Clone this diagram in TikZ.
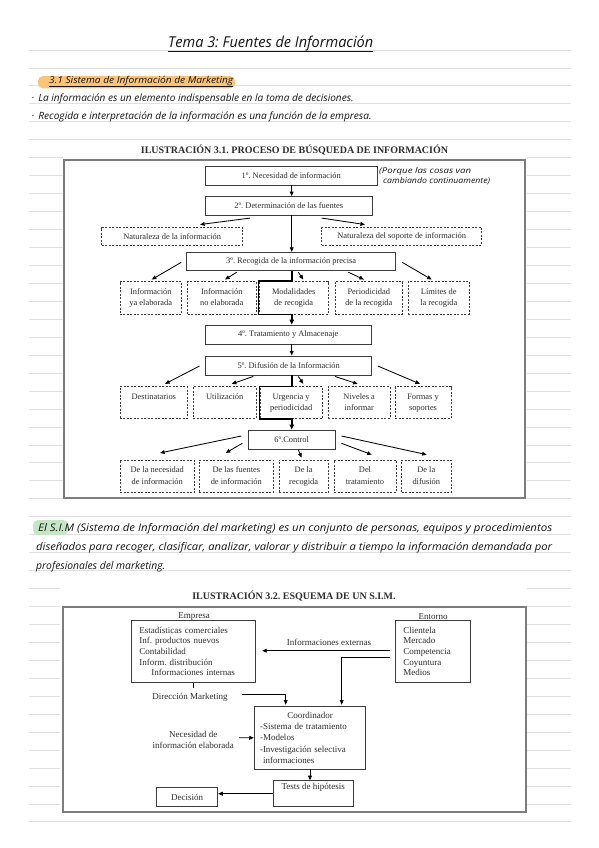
\documentclass[tikz,border=0pt]{standalone}
\usepackage{fontspec}
\usepackage{graphicx}
\setmainfont{Liberation Serif}
\newfontfamily\hand{Open Sans}
\usetikzlibrary{arrows.meta,calc}
\definecolor{rulec}{RGB}{224,224,224}
\definecolor{framec}{RGB}{125,125,125}
\definecolor{boxc}{RGB}{60,60,60}
\definecolor{ink}{RGB}{45,45,45}
\definecolor{handink}{RGB}{20,20,20}
\definecolor{hlorange}{RGB}{250,196,120}
\definecolor{hlgreen}{RGB}{196,230,196}
\newcommand\diafont{\fontsize{8.4}{11.5}\selectfont}
\newcommand\simfont{\fontsize{9}{10.7}\selectfont\frenchspacing}
\newcommand\handfont[1]{\hand\itshape\fontsize{#1}{#1}\selectfont}
\frenchspacing
\begin{document}
\begin{tikzpicture}[x=1pt,y=-1pt,
  every node/.style={inner sep=0pt, text=ink},
  rule/.style={draw=rulec, line width=0.8pt},
  sbox/.style n args={2}{draw=boxc, line width=0.9pt, minimum width=#1, minimum height=#2, align=center, font=\diafont},
  dbox/.style n args={2}{draw=boxc, line width=0.8pt, dash pattern=on 2pt off 1.5pt, minimum width=#1, minimum height=#2, align=center, font=\diafont},
  simbox/.style n args={2}{draw=boxc, line width=0.9pt, minimum width=#1, minimum height=#2, font=\simfont},
  framebox/.style n args={2}{draw=framec, line width=1.3pt, minimum width=#1, minimum height=#2},
  arr/.style={draw=black, line width=0.85pt, -{Triangle[length=4.6pt,width=3.8pt]}},
  thk/.style={draw=black, line width=1.6pt, -{Triangle[length=5pt,width=4.4pt]}},
  plain/.style={draw=black, line width=0.85pt},
  hw/.style={anchor=base west, text=handink},
  lab/.style={font=\simfont, align=center}]
\useasboundingbox (0,0) rectangle (599,848);
\fill[white] (0,0) rectangle (599,848);
% ruled notebook lines
\foreach \k in {0,...,43} \draw[rule] (29,{50+17.95*\k}) -- (571,{50+17.95*\k});
% pasted figure backgrounds
\fill[white] (63,141) rectangle (527,501);
\fill[white] (60,579) rectangle (527,815);

% ---------- handwritten notes ----------
\node[hw, font=\handfont{15}] (htitle) at (168,48) {\resizebox{205pt}{\height}{Tema 3: Fuentes de Información}};
\draw[handink, line width=0.8pt] ($(htitle.base west)+(0,3)$) -- ($(htitle.base east)+(0,3)$);
\fill[hlorange, rounded corners=5pt] (38,76) rectangle (235,88.5);
\node[hw, font=\handfont{9.5}] (hhead) at (49,84) {\resizebox{184pt}{\height}{3.1 Sistema de Información de Marketing}};
\draw[handink, line width=0.6pt] ($(hhead.base west)+(0,2)$) -- ($(hhead.base east)+(0,2)$);
\node[hw, font=\handfont{10}] (hb1) at (31.5,101.5) {\resizebox{322pt}{\height}{·\hspace{4pt}La información es un elemento indispensable en la toma de decisiones.}};
\node[hw, font=\handfont{10}] (hb2) at (31.5,119.5) {\resizebox{340pt}{\height}{·\hspace{4pt}Recogida e interpretación de la información es una función de la empresa.}};

\fill[hlgreen, rounded corners=5pt] (33,520) rectangle (68,535);
\node[hw, font=\handfont{10.5}] (hp1) at (38,531) {\resizebox{514pt}{\height}{El S.I.M (Sistema de Información del marketing) es un conjunto de personas, equipos y procedimientos}};
\node[hw, font=\handfont{10.5}] (hp2) at (36,550) {\resizebox{516pt}{\height}{diseñados para recoger, clasificar, analizar, valorar y distribuir a tiempo la información demandada por}};
\node[hw, font=\handfont{10.5}] (hp3) at (36,569) {\resizebox{129pt}{\height}{profesionales del marketing.}};

% ---------- Ilustración 3.1 ----------
\node[font=\bfseries\fontsize{10}{12}\selectfont] (t1) at (294.5,150) {ILUSTRACIÓN 3.1. PROCESO DE BÚSQUEDA DE INFORMACIÓN};
\node[framebox={461pt}{338pt}] (frame1) at (294.5,329) {};
\coordinate (sp) at (291.7,0);

\node[sbox={171.3pt}{18.3pt}] (n1) at (291.3,175.8) {1º. Necesidad de información};
\node[hw, font=\handfont{8}] (ann1) at (379,173) {\resizebox{92pt}{\height}{(Porque las cosas van}};
\node[hw, font=\handfont{8}] (ann2) at (383,183) {\resizebox{107pt}{\height}{cambiando continuamente)}};
\node[sbox={166.3pt}{18.3pt}] (n2) at (288.8,205.8) {2º. Determinación de las fuentes};
\node[dbox={141pt}{17.3pt}] (nat1) at (172.2,236.3) {Naturaleza de la información};
\node[dbox={160pt}{17.3pt}] (nat2) at (401.7,236.3) {Naturaleza del soporte de información};
\node[sbox={209pt}{17.7pt}] (n3) at (291.2,261.2) {3º. Recogida de la información precisa};
\node[dbox={61.7pt}{32.3pt}] (r1) at (150.8,297.8) {\strut Información\\\strut ya elaborada};
\node[dbox={68.3pt}{32.3pt}] (r2) at (221.8,297.8) {\strut Información\\\strut no elaborada};
\node[dbox={69.3pt}{32.3pt}] (r3) at (293.7,297.8) {\strut Modalidades\\\strut de recogida};
\node[dbox={67.7pt}{32.3pt}] (r4) at (368.8,297.8) {\strut Periodicidad\\\strut de la recogida};
\node[dbox={61pt}{32.3pt}] (r5) at (438.8,297.8) {\strut Límites de\\\strut la recogida};
\node[sbox={165.3pt}{19pt}] (n4) at (288.3,334.5) {4º. Tratamiento y Almacenaje};
\node[sbox={166pt}{19pt}] (n5) at (288.7,365.5) {5º. Difusión de la Información};
\node[dbox={67.7pt}{31.6pt}] (d1) at (153.8,402.5) {\strut Destinatarios\\\strut};
\node[dbox={62.7pt}{31.6pt}] (d2) at (224.7,402.5) {\strut Utilización\\\strut};
\node[dbox={62.3pt}{31.6pt}] (d3) at (291.2,402.5) {\strut Urgencia y\\\strut periodicidad};
\node[dbox={61.7pt}{31.6pt}] (d4) at (359.2,402.5) {\strut Niveles a\\\strut informar};
\node[dbox={56pt}{31.6pt}] (d5) at (423,402.5) {\strut Formas y\\\strut soportes};
\node[sbox={86.7pt}{19pt}] (n6) at (291.7,439.5) {6º.Control};
\node[dbox={74.3pt}{32.3pt}] (c1) at (157.2,476.2) {\strut De la necesidad\\\strut de información};
\node[dbox={74pt}{32.3pt}] (c2) at (236.3,476.2) {\strut De las fuentes\\\strut de información};
\node[dbox={49.3pt}{32.3pt}] (c3) at (303.7,476.2) {\strut De la\\\strut recogida};
\node[dbox={62pt}{32.3pt}] (c4) at (365,476.2) {\strut Del\\\strut tratamiento};
\node[dbox={49.3pt}{32.3pt}] (c5) at (426.3,476.2) {\strut De la\\\strut difusión};

% spine
\draw[arr] (n1.south -| sp) -- (n2.north -| sp);
\draw[arr] (n2.south -| sp) -- (n3.north -| sp);
\draw[arr] (n4.south -| sp) -- (n5.north -| sp);
\draw[thk] (n3.south -| sp) -- (r3.north -| sp) -| (r3.south west) -- (r3.south -| sp) -- (n4.north -| sp);
\draw[thk] (n5.south -| sp) -- (d3.north -| sp) -| (d3.south west) -- (d3.south -| sp) -- (n6.north -| sp);
% branches of 2
\draw[arr] ($(n2.south)+(-38.8,2.7)$) -- ($(nat1.north)+(27.8,-2.7)$);
\draw[arr] ($(n2.south)+(32.9,2.7)$) -- ($(nat2.north)+(-36.7,-2.7)$);
% branches of 3
\draw[arr] ($(n3.west)+(-5,1.1)$) -- ($(r1.north)+(0.9,-1.7)$);
\draw[arr] ($(n3.south)+(-54.5,1.7)$) -- ($(r2.north)+(3.2,-1.7)$);
\draw[arr] ($(n3.south)+(7.1,1.7)$) -- ($(r3.north)+(9.6,-1.7)$);
\draw[arr] ($(n3.south)+(57.1,1.7)$) -- ($(r4.north)+(-4.8,-1.7)$);
\draw[arr] ($(n3.east)+(6,1.1)$) -- ($(r5.north)+(-7.1,-1.7)$);
% branches of 5
\draw[arr] ($(n5.west)+(-5.7,0.5)$) -- ($(d1.north)+(11.2,-2.4)$);
\draw[arr] ($(n5.south)+(-35.4,1)$) -- ($(d2.north)+(7,-2.4)$);
\draw[arr] ($(n5.south)+(9.6,1)$) -- ($(d3.north)+(12.1,-2.4)$);
\draw[arr] ($(n5.south)+(46.3,1)$) -- ($(d4.north)+(-1.5,-2.4)$);
\draw[arr] ($(n5.east)+(5.6,0.5)$) -- ($(d5.north)+(-3,-2.4)$);
% branches of 6
\draw[arr] ($(n6.west)+(-6.6,-3.5)$) -- ($(c1.north)+(2.8,-6.7)$);
\draw[arr] ($(n6.west)+(-5.6,3.8)$) -- ($(c2.north)+(-10.6,-6.7)$);
\draw[arr] ($(n6.south)+(6.6,0.5)$) -- ($(c3.north)+(-2,-2)$);
\draw[arr] ($(n6.east)+(6,3.8)$) -- ($(c4.north)+(6.7,-5)$);
\draw[arr] ($(n6.east)+(6,-3.5)$) -- ($(c5.north)+(0.4,-5)$);

% ---------- Ilustración 3.2 ----------
\node[font=\bfseries\fontsize{10}{12}\selectfont] (t2) at (294,596) {ILUSTRACIÓN 3.2. ESQUEMA DE UN S.I.M.};
\node[framebox={463pt}{205pt}] (frame2) at (294.5,709.5) {};
\node[lab] (lemp) at (194,616.5) {Empresa};
\node[lab] (lent) at (433,616.5) {Entorno};
\node[simbox={123.3pt}{61.6pt}, inner xsep=7.6pt, text width=108pt, align=left] (emp) at (193.3,651.5)
  {Estadísticas comerciales\\Inf.\ productos nuevos\\Contabilidad\\Inform.\ distribución\\\hspace*{12pt}Informaciones internas};
\node[simbox={74.3pt}{61.6pt}, inner xsep=7.6pt, text width=59pt, align=left] (ent) at (432.8,651.5)
  {Clientela\\Mercado\\Competencia\\Coyuntura\\Medios};
\node[lab] (lext) at (329,642) {Informaciones externas};
\node[lab] (dir) at (190,697.3) {Dirección Marketing};
\node[lab] (nec) at (193.3,740) {Necesidad de\\información elaborada};
\node[simbox={111.4pt}{62.3pt}, inner xsep=5.7pt, text width=100pt, align=left, font=\fontsize{9}{11.2}\selectfont] (coord) at (310,737.8)
  {\makebox[100pt][c]{Coordinador}\\-Sistema de tratamiento\\-Modelos\\-Investigación selectiva\\\hspace*{3pt}informaciones};
\node[simbox={80pt}{26pt}, align=center] (tests) at (313.3,793.7) {Tests de hipótesis\\[3pt]\mbox{}};
\node[simbox={61pt}{19.4pt}, align=center] (dec) at (187.2,797) {Decisión};

\draw[arr] ($(ent.west)+(-5.7,-0.8)$) -- ($(emp.east)+(6.7,-0.8)$);
\draw[arr] ($(ent.west)+(-5.7,5.8)$) -| ($(coord.north)+(31.7,-1.5)$);
\draw[plain] (emp.south) -- ++(0,5);
\draw[arr] ($(dir.east)+(14.4,-2.7)$) -| ($(coord.north)+(-24.3,-1.5)$);
\draw[arr] ($(nec.east)+(5,-2.3)$) -- (coord.west);
\draw[arr] (coord.south) -- (coord.south |- tests.north);
\draw[arr] (tests.west) -- (tests.west -| dec.east);
\end{tikzpicture}
\end{document}
